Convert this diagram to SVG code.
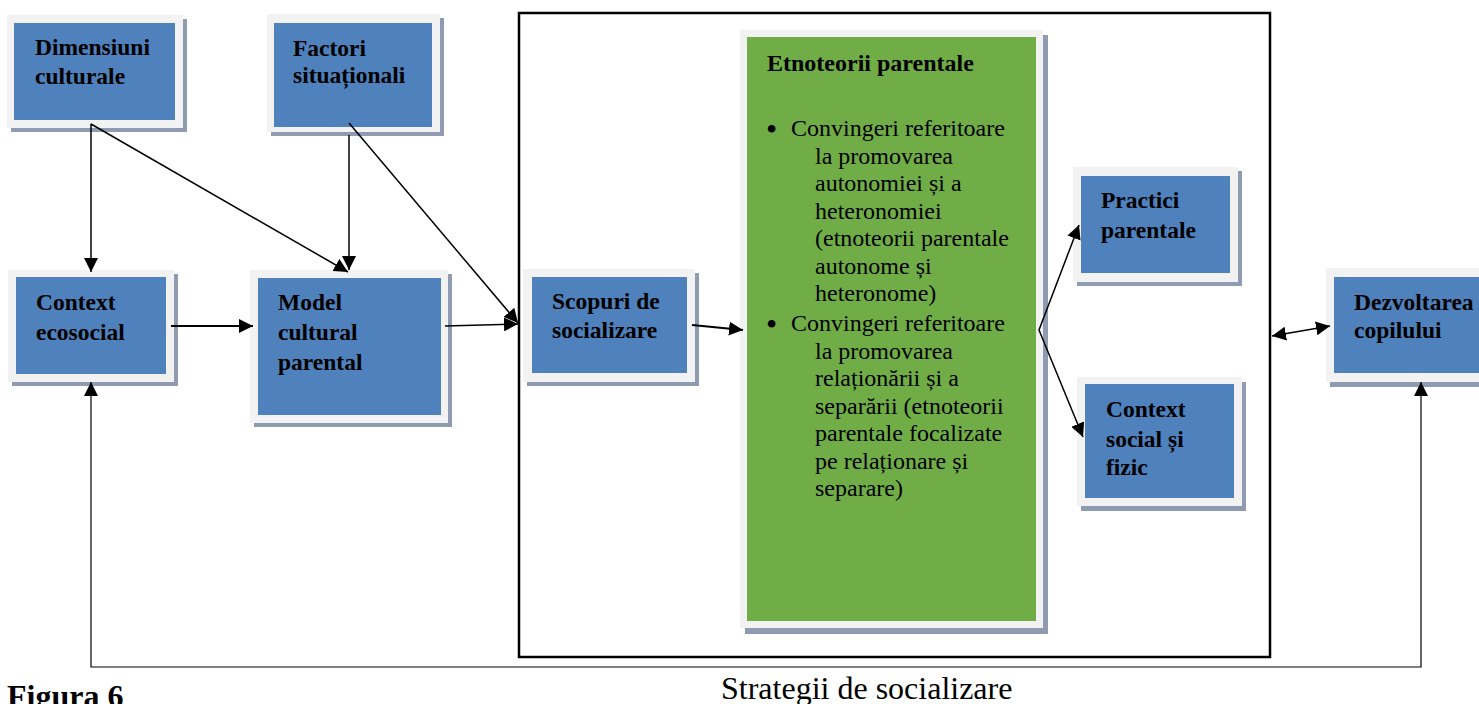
<svg xmlns="http://www.w3.org/2000/svg" width="1479" height="704" viewBox="0 0 1479 704">
<style>
.sh{fill:#8f9bb0}
.fr{fill:#f2f2f2}
.bl{fill:#4f81bd}
.gr{fill:#70ad47}
.lb{font-family:"Liberation Serif","Times New Roman",serif;font-weight:bold;font-size:23.5px;fill:#000}
.tx{font-family:"Liberation Serif","Times New Roman",serif;font-size:24px;fill:#000}
.bu{font-family:"Liberation Serif","Times New Roman",serif;font-size:32px;fill:#000}
.cn{stroke:#000;stroke-width:1.5;fill:none}
</style>
<defs>
<marker id="ah" viewBox="0 0 14 14" refX="14" refY="7" markerWidth="14" markerHeight="14" markerUnits="userSpaceOnUse" orient="auto-start-reverse">
<path d="M0,0 L14,7 L0,14 z" fill="#000"/>
</marker>
</defs>
<rect x="0" y="0" width="1479" height="704" fill="#fff"/>

<g id="strategii">
<rect x="519" y="13" width="751" height="644" fill="none" stroke="#000" stroke-width="2.5"/>
<text x="721" y="699" class="tx" style="font-size:32px">Strategii de socializare</text>
</g>

<g id="dimensiuni">
<rect x="11" y="19" width="176" height="113" class="sh"/>
<rect x="7" y="15" width="176" height="113" class="fr"/>
<rect x="14" y="23" width="161" height="97" class="bl"/>
<text class="lb"><tspan x="35" y="55">Dimensiuni</tspan><tspan x="35" y="84">culturale</tspan></text>
</g>

<g id="factori">
<rect x="271" y="18" width="173" height="118" class="sh"/>
<rect x="267" y="14" width="173" height="118" class="fr"/>
<rect x="274" y="23" width="158" height="104" class="bl"/>
<text class="lb"><tspan x="293" y="56">Factori</tspan><tspan x="293" y="83">situaționali</tspan></text>
</g>

<g id="context-ecosocial">
<rect x="12" y="274" width="166" height="112" class="sh"/>
<rect x="8" y="270" width="166" height="112" class="fr"/>
<rect x="16" y="277" width="150" height="97" class="bl"/>
<text class="lb"><tspan x="36" y="310">Context</tspan><tspan x="36" y="340">ecosocial</tspan></text>
</g>

<g id="model">
<rect x="254" y="274" width="198" height="153" class="sh"/>
<rect x="250" y="270" width="198" height="153" class="fr"/>
<rect x="258" y="278" width="183" height="137" class="bl"/>
<text class="lb"><tspan x="278" y="310">Model</tspan><tspan x="278" y="340">cultural</tspan><tspan x="278" y="370">parental</tspan></text>
</g>

<g id="scopuri">
<rect x="527" y="273" width="172" height="113" class="sh"/>
<rect x="523" y="269" width="172" height="113" class="fr"/>
<rect x="532" y="277" width="155" height="96" class="bl"/>
<text class="lb"><tspan x="552" y="309">Scopuri de</tspan><tspan x="552" y="338">socializare</tspan></text>
</g>

<g id="etnoteorii">
<rect x="745" y="35" width="303" height="599" class="sh"/>
<rect x="740" y="30" width="303" height="598" class="fr"/>
<rect x="747" y="37" width="289" height="584" class="gr"/>
<text class="tx" style="font-weight:bold" x="767" y="71">Etnoteorii parentale</text>
<text class="bu"><tspan x="766" y="140">•</tspan><tspan x="766" y="335">•</tspan></text>
<text class="tx">
<tspan x="791" y="136">Convingeri referitoare</tspan>
<tspan x="815" y="163.5">la promovarea</tspan>
<tspan x="815" y="191">autonomiei și a</tspan>
<tspan x="815" y="218.5">heteronomiei</tspan>
<tspan x="815" y="246">(etnoteorii parentale</tspan>
<tspan x="815" y="273.5">autonome și</tspan>
<tspan x="815" y="301">heteronome)</tspan>
<tspan x="791" y="331">Convingeri referitoare</tspan>
<tspan x="815" y="358.5">la promovarea</tspan>
<tspan x="815" y="386">relaționării și a</tspan>
<tspan x="815" y="413.5">separării (etnoteorii</tspan>
<tspan x="815" y="441">parentale focalizate</tspan>
<tspan x="815" y="468.5">pe relaționare și</tspan>
<tspan x="815" y="496">separare)</tspan>
</text>
</g>

<g id="practici">
<rect x="1077" y="171" width="165" height="115" class="sh"/>
<rect x="1073" y="167" width="165" height="115" class="fr"/>
<rect x="1081" y="176" width="149" height="97" class="bl"/>
<text class="lb"><tspan x="1101" y="208">Practici</tspan><tspan x="1101" y="238">parentale</tspan></text>
</g>

<g id="context-social">
<rect x="1081" y="382" width="165" height="129" class="sh"/>
<rect x="1077" y="377" width="165" height="129" class="fr"/>
<rect x="1085" y="384" width="149" height="114" class="bl"/>
<text class="lb"><tspan x="1106" y="417">Context</tspan><tspan x="1106" y="447">social și</tspan><tspan x="1106" y="475">fizic</tspan></text>
</g>

<g id="dezvoltarea">
<rect x="1330" y="273" width="160" height="114" class="sh"/>
<rect x="1326" y="268" width="160" height="114" class="fr"/>
<rect x="1334" y="277" width="150" height="96" class="bl"/>
<text class="lb"><tspan x="1354" y="310">Dezvoltarea</tspan><tspan x="1354" y="338">copilului</tspan></text>
</g>

<g id="figura">
<text class="tx" style="font-weight:bold;font-size:32px" x="7" y="707">Figura 6</text>
</g>

<g id="connectors">
<line class="cn" x1="91" y1="124" x2="91" y2="272" marker-end="url(#ah)"/>
<line class="cn" x1="91" y1="124" x2="348" y2="272" marker-end="url(#ah)"/>
<line class="cn" x1="349" y1="135" x2="349" y2="270" marker-end="url(#ah)"/>
<line class="cn" x1="349" y1="123" x2="518" y2="323" marker-end="url(#ah)"/>
<line class="cn" style="stroke-width:2" x1="171" y1="326" x2="253" y2="326" marker-end="url(#ah)"/>
<line class="cn" x1="445" y1="326" x2="518" y2="324" marker-end="url(#ah)"/>
<line class="cn" style="stroke-width:2" x1="692" y1="325" x2="743" y2="330" marker-end="url(#ah)"/>
<polyline class="cn" points="1079,225 1039,330 1083,437" marker-start="url(#ah)" marker-end="url(#ah)"/>
<line class="cn" x1="1272" y1="336" x2="1330" y2="326" marker-start="url(#ah)" marker-end="url(#ah)"/>
<polyline class="cn" style="stroke-width:1.2" points="91,382 91,667 1421,667 1421,382" marker-start="url(#ah)" marker-end="url(#ah)"/>
</g>
</svg>
